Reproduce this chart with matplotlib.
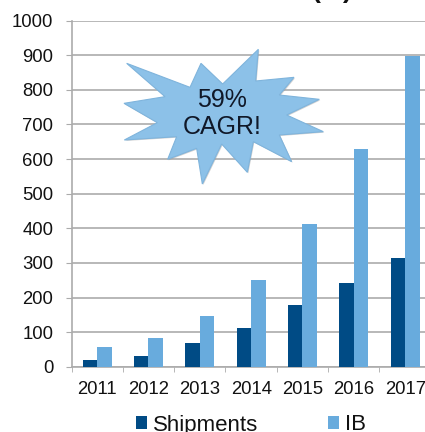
import matplotlib
matplotlib.use("Agg")
import matplotlib.pyplot as plt
import numpy as np
from matplotlib.patches import Polygon

years = ["2011", "2012", "2013", "2014", "2015", "2016", "2017"]
shipments = [20, 31, 68, 113, 177, 241, 315]
ib = [56, 84, 146, 250, 413, 628, 898]
yticks = list(range(0, 1001, 100))

FW, FH = 425, 432
plt.rcParams["font.family"] = ["Liberation Sans", "DejaVu Sans"]
fig = plt.figure(figsize=(FW/100, FH/100), dpi=100)
L, B, R, T = 71.5, 366.7, 71.5 + 51.33*7, 20.7
ax = fig.add_axes([L/FW, 1-B/FH, (R-L)/FW, (B-T)/FH])
x = np.arange(len(years)) + 0.5
w = 0.283
ax.bar(x - w/2, shipments, w, color="#004B85", label="Shipments", zorder=3)
ax.bar(x + w/2, ib, w, color="#68ABDD", label="IB", zorder=3)
ax.set_xlim(0, 7); ax.set_ylim(0, 1000)
ax.set_yticks(yticks)
ax.set_xticks(x, years)
ax.set_xticks(np.arange(0, 8), minor=True)
ax.grid(axis="y", color="#ABABAB", lw=1.2, zorder=0)
for s in ["top", "right"]:
    ax.spines[s].set_visible(False)
for s in ["left", "bottom"]:
    ax.spines[s].set_color("#ABABAB"); ax.spines[s].set_linewidth(1.2)
ax.tick_params(axis="y", length=4.5, color="#ABABAB", labelsize=13.3, labelcolor="#111111", pad=8.5)
ax.tick_params(axis="x", which="major", length=0, labelsize=13.3, labelcolor="#111111", pad=10)
ax.tick_params(axis="x", which="minor", length=3.5, color="#ABABAB")

# starburst annotation: outline traced in figure pixels, placed with a pixel transform
star_zoom = [(380,190),(570,262),(603,190),(668,252),(775,148),(767,243),(882,232),(838,285),(958,298),(860,345),
             (970,395),(838,405),(875,485),(760,425),(742,517),(665,432),(607,552),(590,445),(503,478),(530,410),
             (373,420),(472,368),(372,310),(495,290)]
def to_data(px_, py):
    return (px_-L)/51.33, (B-py)/(B-T)*1000
pts = [to_data(a/3, b/3) for a, b in star_zoom]
shadow = [to_data(a/3+1, b/3+1) for a, b in star_zoom]
ax.add_patch(Polygon(shadow, closed=True, facecolor="#9A9A9A", edgecolor="none", alpha=0.45, zorder=4))
ax.add_patch(Polygon(pts, closed=True, facecolor="#8CC1E8", edgecolor="#7FB4DC", lw=0.8, zorder=4.5))
ax.text(*to_data(222, 100), "59%", ha="center", va="center", fontsize=18, color="#101828", zorder=5)
ax.text(*to_data(222, 127), "CAGR!", ha="center", va="center", fontsize=18, color="#101828", zorder=5)

h, lab = ax.get_legend_handles_labels()
fig.legend(h, lab, ncol=2, loc="center", bbox_to_anchor=(251/FW, 1-425/FH), frameon=False, fontsize=16,
           handlelength=0.5, handleheight=0.5, handletextpad=0.27, columnspacing=3.15, labelcolor="#111111",
           borderpad=0, borderaxespad=0)
# only the bottoms of the title's brackets are visible at the top edge of the reference
fig.text(332/FW, 1-(-9)/FH, "(   )", ha="center", va="center", fontsize=19, fontweight="bold", color="#111111")
fig.savefig("out.png", dpi=100)
